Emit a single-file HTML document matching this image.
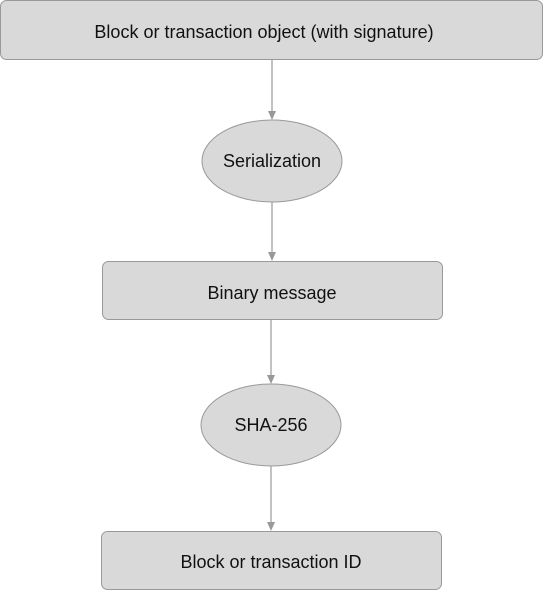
<!DOCTYPE html>
<html><head><style>body{margin:0;background:#fff}</style></head><body>
<svg width="543" height="591" xmlns="http://www.w3.org/2000/svg" style="display:block">
<g fill="#d9d9d9" stroke="#999" stroke-width="1">
<rect x="0.5" y="0.5" width="542" height="59" rx="6"/>
<ellipse cx="272" cy="161" rx="70" ry="41"/>
<rect x="102.5" y="261.5" width="340" height="58" rx="6"/>
<ellipse cx="271" cy="425" rx="70" ry="41"/>
<rect x="101.5" y="531.5" width="340" height="58" rx="6"/>
</g>
<g stroke="#999" stroke-width="1.2" fill="none">
<line x1="272" y1="60" x2="272" y2="112"/>
<line x1="272" y1="202" x2="272" y2="253"/>
<line x1="271" y1="320" x2="271" y2="376"/>
<line x1="271" y1="466" x2="271" y2="523"/>
</g>
<g fill="#999">
<polygon points="268,111 276,111 272,120"/>
<polygon points="268,252 276,252 272,261"/>
<polygon points="267,375 275,375 271,384"/>
<polygon points="267,522 275,522 271,531"/>
</g>
<g font-family="Liberation Sans, sans-serif" font-size="18" fill="#111" text-anchor="middle">
<text x="264" y="38">Block or transaction object (with signature)</text>
<text x="272" y="167">Serialization</text>
<text x="272" y="299">Binary message</text>
<text x="271" y="431">SHA-256</text>
<text x="271" y="568">Block or transaction ID</text>
</g>
</svg>
</body></html>
